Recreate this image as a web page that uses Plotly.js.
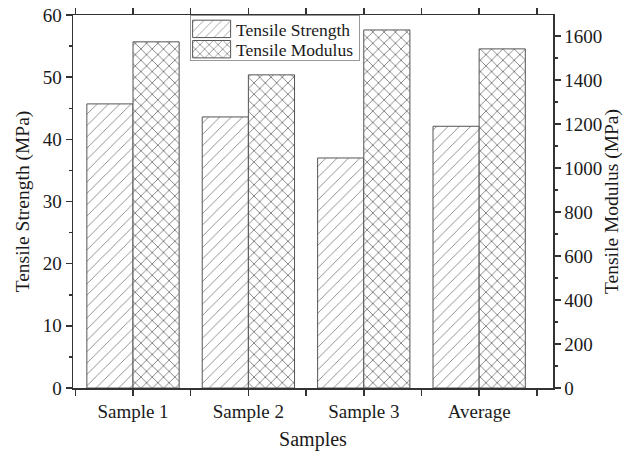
<!DOCTYPE html>
<html>
<head>
<meta charset="utf-8">
<script src="https://cdn.plot.ly/plotly-3.0.1.min.js"></script>
<style>html,body{margin:0;padding:0;background:#fff;}#chart{width:623px;height:455px;}</style>
</head>
<body>
<div id="chart"></div>
<script>
var categories = ["Sample 1", "Sample 2", "Sample 3", "Average"];
var tensileStrength = [45.7, 43.6, 37.0, 42.1];
var tensileModulus = [1573, 1423, 1627, 1541];
var strengthTicks = [0, 10, 20, 30, 40, 50, 60];
var modulusTicks = [0, 200, 400, 600, 800, 1000, 1200, 1400, 1600];

var xPos = categories.map(function (c, i) { return i; });
var FONT = "Liberation Serif, Times New Roman, serif";
var AX = "#333";
var TXT = "#1a1a1a";

var traces = [
  {
    type: "bar", name: "Tensile Strength", x: xPos, y: tensileStrength,
    yaxis: "y", offsetgroup: "1",
    marker: { color: "white", line: { color: "#555", width: 1 },
      pattern: { shape: "/", fgcolor: "#555", bgcolor: "white", size: 8, solidity: 0.08, fillmode: "replace" } }
  },
  {
    type: "bar", name: "Tensile Modulus", x: xPos, y: tensileModulus,
    yaxis: "y2", offsetgroup: "2",
    marker: { color: "white", line: { color: "#555", width: 1 },
      pattern: { shape: "x", fgcolor: "#333", bgcolor: "white", size: 8, solidity: 0.14, fillmode: "replace" } }
  }
];

var layout = {
  width: 623, height: 455,
  margin: { l: 73, r: 70, t: 15, b: 67 },
  paper_bgcolor: "white", plot_bgcolor: "white",
  font: { family: FONT, color: TXT, size: 18 },
  barmode: "group", bargap: 0.2, bargroupgap: 0,
  showlegend: true,
  legend: { x: 0.244, y: 1, xanchor: "left", yanchor: "top", bgcolor: "white",
    bordercolor: "#999", borderwidth: 1, font: { family: FONT, size: 17.5, color: TXT },
    tracegroupgap: 0, itemwidth: 35 },
  xaxis: {
    range: [-0.52, 3.64], tickvals: xPos, ticktext: categories,
    showgrid: false, zeroline: false, showline: true, linecolor: AX, linewidth: 1.5,
    mirror: "allticks", ticks: "outside", ticklen: 6, tickwidth: 1.5, tickcolor: AX,
    minor: { tick0: 0.5, dtick: 1, ticks: "outside", ticklen: 3, tickwidth: 1.5, tickcolor: AX, showgrid: false },
    tickfont: { size: 19, family: FONT, color: TXT },
    title: { text: "Samples", font: { size: 20, family: FONT, color: TXT }, standoff: 10 }
  },
  yaxis: {
    range: [0, 60], tickvals: strengthTicks, showgrid: false, zeroline: false,
    showline: true, linecolor: AX, linewidth: 1.5, mirror: false,
    ticks: "outside", ticklen: 6, tickwidth: 1.5, tickcolor: AX,
    minor: { dtick: 5, ticks: "outside", ticklen: 3, tickwidth: 1.5, tickcolor: AX, showgrid: false },
    tickfont: { size: 19, family: FONT, color: TXT },
    title: { text: "Tensile Strength (MPa)", font: { size: 19.5, family: FONT, color: TXT }, standoff: 8 }
  },
  yaxis2: {
    overlaying: "y", side: "right", range: [0, 1695], tickvals: modulusTicks,
    showgrid: false, zeroline: false, showline: true, linecolor: AX, linewidth: 1.5,
    ticks: "outside", ticklen: 6, tickwidth: 1.5, tickcolor: AX,
    minor: { dtick: 100, ticks: "outside", ticklen: 3, tickwidth: 1.5, tickcolor: AX, showgrid: false },
    tickfont: { size: 19, family: FONT, color: TXT },
    title: { text: "Tensile Modulus (MPa)", font: { size: 19.5, family: FONT, color: TXT }, standoff: 2 }
  }
};

function restyleLegend(gd) {
  var items = gd.querySelectorAll(".legend .traces");
  if (!items.length) return;
  var first = null;
  items.forEach(function (it, i) {
    var m = /translate\(([-\d.]+)[ ,]+([-\d.]+)\)/.exec(it.getAttribute("transform") || "");
    var tx = m ? parseFloat(m[1]) : 0, ty = m ? parseFloat(m[2]) : 0;
    if (first === null) first = ty - 5;
    it.setAttribute("transform", "translate(" + tx + "," + (first + i * 20.3) + ")");
    var p = it.querySelector(".legendpoints path");
    if (p) p.setAttribute("d", "M17,8.7H-21V-8.7H17Z");
  });
  var bg = gd.querySelector(".legend rect.bg");
  if (bg) bg.setAttribute("height", "45");
}

Plotly.newPlot("chart", traces, layout, { displayModeBar: false, staticPlot: true }).then(function (gd) {
  restyleLegend(gd);
});
</script>
</body>
</html>
